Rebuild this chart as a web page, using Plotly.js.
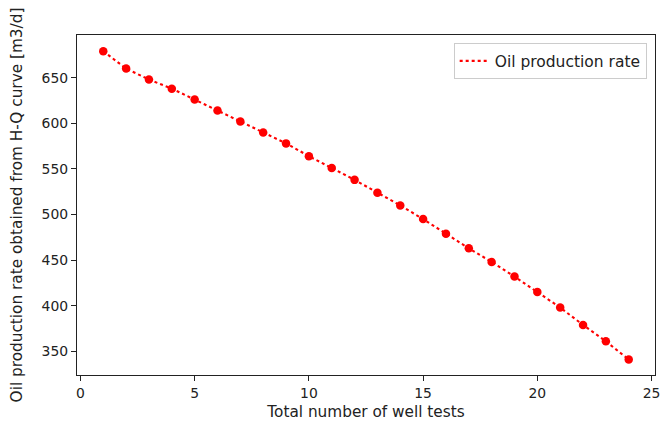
<!DOCTYPE html>
<html>
<head>
<meta charset="utf-8">
<script src="https://cdn.plot.ly/plotly-3.0.1.min.js"></script>
<style>html,body{margin:0;padding:0;background:#fff;}#chart{width:660px;height:428px;}</style>
</head>
<body>
<div id="chart"></div>
<script>
const wellTests = [1,2,3,4,5,6,7,8,9,10,11,12,13,14,15,16,17,18,19,20,21,22,23,24];
const oilRate = [679,660,648,638,626,614,602,590,578,564,551,538,524,510,495,479,463,448,432,415,398,379,361,341];
const xTicks = [0,5,10,15,20,25];
const yTicks = [350,400,450,500,550,600,650];
const seriesName = 'Oil production rate';
const xLabel = 'Total number of well tests';
const yLabel = 'Oil production rate obtained from H-Q curve [m3/d]';

const font = {family: 'DejaVu Sans', size: 13.9, color: '#222'};
const titleFont = {family: 'DejaVu Sans', size: 15.3, color: '#222'};
const legendFont = {family: 'DejaVu Sans', size: 15.5, color: '#222'};
const traces = [
  {x: wellTests, y: oilRate, mode: 'lines', name: seriesName,
   line: {color: '#ff0000', dash: 'dot', width: 2.1}, showlegend: true},
  {x: wellTests, y: oilRate, mode: 'markers', name: seriesName,
   marker: {color: '#ff0000', size: 8.5}, showlegend: false}
];
const axisCommon = {showline: true, mirror: true, linecolor: '#222', linewidth: 1.1,
  ticks: 'outside', ticklen: 5, tickwidth: 1.1, tickcolor: '#222',
  showgrid: false, zeroline: false, tickfont: font, ticklabeloverflow: 'allow'};
const layout = {
  width: 660, height: 428,
  margin: {l: 77, r: 5, t: 35, b: 53},
  paper_bgcolor: '#fff', plot_bgcolor: '#fff',
  font: font,
  xaxis: Object.assign({}, axisCommon, {range: [-0.15, 25.15], tickvals: xTicks,
    title: {text: xLabel, font: titleFont, standoff: 6}}),
  yaxis: Object.assign({}, axisCommon, {range: [324.1, 696.8], tickvals: yTicks,
    title: {text: yLabel, font: titleFont, standoff: 15}}),
  legend: {x: 0.9856, xanchor: 'right', y: 0.9756, yanchor: 'top',
    bgcolor: 'rgba(255,255,255,0.8)', bordercolor: '#cccccc', borderwidth: 1,
    font: legendFont}
};
Plotly.newPlot('chart', traces, layout, {displayModeBar: false, staticPlot: true});
</script>
</body>
</html>
